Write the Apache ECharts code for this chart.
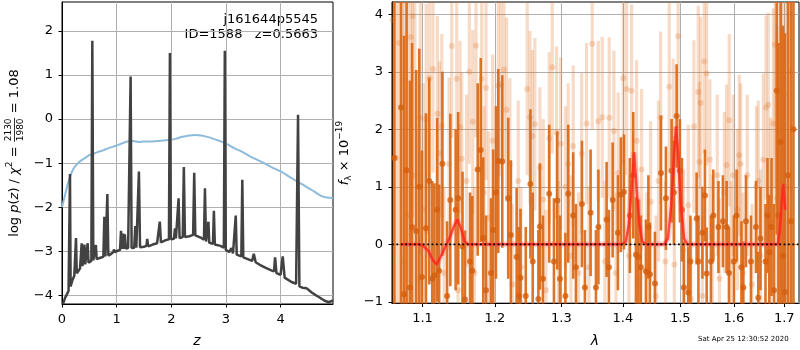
<!DOCTYPE html>
<html>
<head>
<meta charset="utf-8">
<script src="https://cdn.jsdelivr.net/npm/echarts@6/dist/echarts.min.js"></script>
<style>
html, body { margin: 0; padding: 0; background: #fff; }
#chart { width: 800px; height: 350px; }
</style>
</head>
<body>
<div id="chart"></div>
<script>
// ---- redshift probability panel -------------------------------------
// [z, log p(z)] along the redshift grid
const logPz = [
  [0.02,-4.20],[0.04,-4.12],[0.06,-4.05],[0.09,-3.98],[0.12,-3.90],[0.135,-3.86],[0.146,-1.25],[0.158,-3.80],
  [0.19,-3.66],[0.225,-3.56],[0.242,-3.53],[0.256,-2.70],[0.27,-3.50],[0.30,-3.45],[0.33,-3.39],[0.345,-3.37],
  [0.36,-2.82],[0.375,-3.34],[0.395,-3.32],[0.41,-2.85],[0.425,-3.30],[0.455,-3.28],[0.47,-2.82],[0.485,-3.26],
  [0.537,-3.22],[0.555,1.78],[0.573,-3.21],[0.605,-3.19],[0.62,-2.86],[0.635,-3.18],[0.70,-3.15],[0.757,-3.13],
  [0.775,-2.22],[0.795,-3.12],[0.813,-3.11],[0.83,-1.70],[0.848,-3.10],[0.90,-3.06],[0.94,-3.02],[0.95,-2.96],
  [0.965,-3.02],[1.02,-2.99],[1.062,-2.97],[1.08,-2.54],[1.098,-2.95],[1.12,-2.60],[1.135,-2.95],[1.15,-2.62],
  [1.17,-2.94],[1.21,-2.93],[1.238,-2.93],[1.256,0.97],[1.274,-2.93],[1.322,-2.92],[1.341,-2.43],[1.36,-2.92],
  [1.39,-2.91],[1.408,-1.19],[1.428,-2.91],[1.50,-2.90],[1.545,-2.88],[1.56,-2.72],[1.578,-2.89],[1.66,-2.85],
  [1.74,-2.82],[1.772,-2.80],[1.79,-2.33],[1.81,-2.80],[1.90,-2.75],[1.957,-2.73],[1.975,1.50],[1.993,-2.73],
  [2.05,-2.72],[2.067,-2.48],[2.085,-2.71],[2.115,-2.70],[2.134,-1.80],[2.152,-2.70],[2.21,-2.68],[2.23,-1.09],
  [2.25,-2.68],[2.33,-2.66],[2.40,-2.63],[2.42,-1.22],[2.44,-2.64],[2.55,-2.70],[2.598,-2.74],[2.616,-1.57],
  [2.636,-2.78],[2.665,-2.80],[2.68,-2.33],[2.695,-2.81],[2.763,-2.83],[2.78,-2.08],[2.797,-2.85],[2.90,-2.88],
  [2.962,-2.92],[2.98,1.55],[2.998,-2.97],[3.06,-3.02],[3.10,-2.93],[3.13,-3.05],[3.162,-3.06],[3.18,-2.19],
  [3.198,-3.08],[3.282,-3.12],[3.30,-1.38],[3.318,-3.14],[3.40,-3.18],[3.48,-3.22],[3.51,-3.06],[3.545,-3.25],
  [3.62,-3.31],[3.73,-3.38],[3.84,-3.44],[3.88,-3.46],[3.90,-3.14],[3.925,-3.50],[4.00,-3.54],[4.04,-3.12],
  [4.075,-3.60],[4.20,-3.70],[4.285,-3.74],[4.32,0.10],[4.345,-3.80],[4.40,-3.83],[4.475,-3.84],[4.50,-3.88],
  [4.57,-3.94],[4.62,-3.98],[4.70,-4.04],[4.80,-4.12],[4.88,-4.16],[4.96,-4.12]
];

// [z, value] of the smooth reference curve
const priorCurve = [
  [0.00,-2.00],[0.05,-1.75],[0.10,-1.50],[0.15,-1.30],[0.20,-1.15],[0.27,-1.03],[0.33,-0.96],[0.40,-0.90],
  [0.50,-0.82],[0.57,-0.79],[0.65,-0.75],[0.75,-0.71],[0.85,-0.66],[1.00,-0.60],[1.10,-0.55],[1.20,-0.51],
  [1.30,-0.50],[1.40,-0.52],[1.50,-0.51],[1.60,-0.51],[1.80,-0.49],[2.00,-0.47],[2.10,-0.44],[2.20,-0.40],
  [2.30,-0.38],[2.43,-0.36],[2.55,-0.37],[2.68,-0.41],[2.80,-0.46],[2.92,-0.51],[3.04,-0.58],[3.15,-0.66],
  [3.29,-0.74],[3.45,-0.85],[3.65,-0.97],[3.85,-1.10],[4.02,-1.20],[4.15,-1.30],[4.32,-1.43],[4.45,-1.52],
  [4.57,-1.61],[4.66,-1.68],[4.75,-1.75],[4.85,-1.78],[4.96,-1.79]
];

const zTicks = [0, 1, 2, 3, 4];
const logPTicks = [-4, -3, -2, -1, 0, 1, 2];

// ---- spectrum panel ---------------------------------------------------
// [lambda (micron), flux, 1-sigma error]
const darkPoints = [
  [1.0633,1.50,5.0],[1.0719,2.38,5.0],[1.0757,-0.87,4.5],[1.0791,1.29,4.0],
  [1.0834,-0.75,3.6],[1.0862,0.30,3.2],[1.0916,0.23,2.8],[1.0957,1.00,2.4],[1.0992,-0.57,2.2],
  [1.1045,0.28,2.0],[1.1089,1.10,1.8],[1.1129,-0.60,1.7],[1.1159,-0.54,1.6],[1.1195,0.60,1.6],
  [1.1222,-0.46,1.5],[1.1266,1.40,1.6],[1.1330,-0.90,1.3],[1.1374,0.77,1.5],
  [1.1447,0.60,1.4],[1.1482,0.80,1.5],[1.1542,-0.04,1.3],
  [1.1577,-0.96,1.2],[1.1647,-0.30,1.2],[1.1679,-0.46,1.3],
  [1.1755,1.30,1.5],[1.1798,1.64,1.6],[1.1834,0.11,1.4],[1.1873,-0.80,1.3],
  [1.1944,-0.50,1.3],[1.1977,0.25,1.4],[1.2016,0.90,1.5],[1.2050,1.45,1.6],
  [1.2108,1.44,1.5],[1.2195,0.80,1.4],[1.2234,0.16,1.3],
  [1.2319,-0.22,1.2],[1.2352,-0.90,1.2],[1.2377,-0.58,1.2],[1.2455,-0.90,1.2],
  [1.2525,1.05,1.3],[1.2560,-0.30,1.2],[1.2646,-0.95,1.2],
  [1.2669,0.31,1.1],[1.2715,-0.60,1.1],[1.2812,0.88,1.2],
  [1.2885,-0.30,1.1],[1.2937,0.76,1.2],[1.2978,-0.60,1.1],[1.3064,-0.90,1.1],
  [1.3108,0.88,1.2],[1.3187,0.50,1.1],[1.3230,-0.40,1.1],
  [1.3326,0.70,1.1],[1.3374,-0.75,1.0],[1.3466,0.55,1.1],
  [1.3553,-0.75,1.0],[1.3593,0.30,1.0],[1.3728,0.43,1.0],
  [1.3766,-0.40,1.0],[1.3828,0.77,1.0],[1.3916,0.20,1.0],[1.3966,0.86,1.0],
  [1.4017,0.91,1.0],[1.4118,0.50,1.0],[1.4175,1.20,1.1],[1.4221,-0.18,1.0],
  [1.4263,-0.22,1.0],[1.4306,-0.40,0.9],[1.4393,-0.47,0.9],[1.4436,0.30,0.9],
  [1.4462,-0.52,0.9],[1.4550,-0.68,0.9],[1.4656,1.24,1.0],
  [1.4744,0.80,0.9],[1.4845,1.28,0.9],[1.4886,0.90,0.9],
  [1.4935,2.23,0.9],[1.4994,1.28,0.9],[1.5031,0.60,0.9],[1.5067,-0.75,0.8],
  [1.5145,-0.84,0.8],[1.5185,-0.30,0.8],[1.5299,0.45,0.8],[1.5332,-0.30,0.8],
  [1.5406,0.20,0.8],[1.5453,0.85,0.8],[1.5485,-0.51,0.8],
  [1.5565,-0.30,0.8],[1.5609,0.50,0.8],[1.5706,0.30,0.8],
  [1.5791,0.40,0.8],[1.5862,0.30,0.8],[1.5906,-0.50,0.8],[1.6002,-0.30,0.8],
  [1.6054,0.50,0.8],[1.6147,-0.40,0.8],[1.6183,-0.75,0.8],[1.6235,0.40,0.8],
  [1.6333,-0.30,0.8],[1.6432,0.30,0.8],[1.6477,-0.93,0.8],
  [1.6521,0.10,0.9],[1.6621,-0.30,1.0],[1.6661,0.50,1.0],[1.6697,-0.14,1.0],
  [1.6742,0.30,1.2],[1.6792,-0.80,1.5],[1.6846,2.67,2.5],[1.6883,0.50,3.0],[1.6928,1.78,3.5],
  [1.6975,-0.20,4.0],[1.7016,-0.83,4.5],[1.7077,1.20,5.0],[1.7139,0.40,5.0],[1.7190,2.00,5.0]
];

const lightPoints = [
  [1.0609,3.90,5.0],[1.0654,1.50,5.0],[1.0693,3.50,5.0],[1.0738,-0.30,4.5],[1.0769,2.85,4.0],
  [1.0808,0.50,4.0],[1.0847,3.60,3.5],[1.0869,3.97,3.5],[1.0899,1.20,3.0],[1.0937,-0.60,2.6],
  [1.0970,2.20,2.4],[1.1009,0.60,2.2],[1.1049,2.18,2.0],[1.1093,2.89,1.9],[1.1139,3.05,1.8],
  [1.1199,2.27,1.7],[1.1226,1.58,1.6],[1.1258,2.06,1.6],[1.1289,-0.50,1.5],
  [1.1357,1.40,1.5],[1.1393,3.45,1.6],[1.1462,2.88,1.6],
  [1.1480,-0.80,1.5],[1.1508,2.04,1.5],[1.1531,1.49,1.5],[1.1598,1.10,1.5],
  [1.1637,3.00,1.6],[1.1685,2.13,1.6],[1.1710,-0.50,1.5],[1.1731,3.46,1.6],
  [1.1812,2.88,1.6],[1.1845,0.90,1.5],[1.1873,2.72,1.6],[1.1912,0.46,1.5],
  [1.1969,1.80,1.5],[1.2050,2.76,1.6],[1.2088,2.79,1.6],[1.2132,3.04,1.6],
  [1.2171,2.34,1.6],[1.2220,1.39,1.5],[1.2257,-0.70,1.4],[1.2343,1.10,1.4],
  [1.2383,-0.40,1.4],[1.2477,2.70,1.5],[1.2518,2.21,1.5],[1.2555,1.88,1.5],
  [1.2593,2.09,1.5],[1.2669,1.33,1.4],[1.2720,0.78,1.4],[1.2761,-0.80,1.4],
  [1.2812,1.84,1.5],[1.2858,3.08,1.5],[1.2926,1.94,1.5],[1.2954,-0.30,1.4],
  [1.2989,1.75,1.5],[1.3064,1.00,1.4],[1.3108,1.40,1.4],[1.3151,-0.20,1.4],
  [1.3187,1.71,1.4],[1.3270,-0.50,1.4],[1.3321,1.58,1.4],
  [1.3401,2.10,1.4],[1.3439,-0.40,1.4],[1.3492,3.49,1.5],[1.3590,2.14,1.4],
  [1.3656,2.21,1.4],[1.3700,-0.30,1.4],[1.3771,2.20,1.4],
  [1.3849,1.97,1.4],[1.3883,-0.50,1.4],[1.3921,1.24,1.4],
  [1.4005,2.89,1.5],[1.4062,2.70,1.5],[1.4101,-0.20,1.4],[1.4147,2.67,1.5],
  [1.4233,1.80,1.4],[1.4272,-0.60,1.4],[1.4318,1.30,1.4],[1.4410,-0.50,1.4],
  [1.4475,0.74,1.4],[1.4567,-0.90,1.4],[1.4612,1.10,1.4],[1.4650,2.20,1.5],
  [1.4735,-0.30,1.4],[1.4803,2.74,1.5],[1.4874,1.83,1.4],
  [1.4895,-0.35,1.4],[1.4962,3.62,1.6],[1.5057,-0.10,1.4],
  [1.5145,0.68,1.4],[1.5194,-0.95,1.4],[1.5249,2.05,1.5],[1.5329,2.65,1.5],
  [1.5351,1.43,1.4],[1.5373,2.46,1.5],[1.5406,-0.90,1.4],[1.5440,3.18,1.6],[1.5485,2.97,1.6],
  [1.5546,1.47,1.4],[1.5593,-0.20,1.4],[1.5684,1.20,1.4],
  [1.5725,-0.60,1.4],[1.5819,0.90,1.4],[1.5861,1.38,1.4],[1.5911,2.16,1.5],
  [1.5944,-0.30,1.4],[1.5988,1.20,1.4],[1.6070,0.60,1.4],[1.6104,1.55,1.4],
  [1.6131,1.40,1.4],[1.6177,-0.50,1.4],[1.6260,1.20,1.4],
  [1.6353,-0.70,1.4],[1.6441,1.00,1.4],[1.6477,1.10,1.4],[1.6521,-0.20,1.5],
  [1.6577,1.47,1.5],[1.6631,2.38,1.6],[1.6677,2.43,1.6],[1.6721,0.40,1.8],[1.6778,2.10,2.0],
  [1.6812,3.47,2.5],[1.6853,0.80,3.0],[1.6893,1.70,3.5],[1.6944,0.30,4.0],[1.6996,2.60,4.5],
  [1.7057,1.00,5.0],[1.7119,3.00,5.0]
];

// [lambda, flux] of the best-fit line model
const modelSpec = [
  [1.0717,0],[1.095,0],[1.100,-0.02],[1.108,-0.12],[1.114,-0.28],[1.119,-0.35],[1.124,-0.22],
  [1.130,-0.06],[1.136,0.10],[1.142,0.30],[1.147,0.43],[1.152,0.28],[1.157,0.05],[1.162,0],
  [1.398,0],[1.405,0.05],[1.410,0.35],[1.415,1.00],[1.419,1.60],[1.423,1.00],[1.428,0.35],
  [1.433,0.05],[1.440,0],[1.471,0],[1.478,0.10],[1.484,0.70],[1.489,1.60],[1.4924,2.05],
  [1.496,1.60],[1.501,0.70],[1.507,0.10],[1.513,0],[1.687,0],[1.691,0.25],[1.695,0.75],
  [1.698,1.05],[1.700,0.85],[1.702,0.60]
];

const lamTicks = [1.1, 1.2, 1.3, 1.4, 1.5, 1.6, 1.7];
const fluxTicks = [-1, 0, 1, 2, 3, 4];
const LAM_MIN = 1.0603, LAM_MAX = 1.7305;

// ---------------------------------------------------------------------
const FONT = 'DejaVu Sans';
const GRID_COLOR = '#b0b0b0';
const minus = v => (v < 0 ? '\u2212' : '') + Math.abs(v);

// wavelength axis is logarithmic: plot ln(lambda)
const toLog = rows => rows.map(r => [Math.log(r[0])].concat(r.slice(1)));

function errorBars(rows, color, width) {
  return {
    type: 'custom', xAxisIndex: 1, yAxisIndex: 1, clip: true, silent: true,
    data: toLog(rows),
    encode: { x: 0, y: 1 },
    renderItem: function (params, api) {
      const x = api.value(0), y = api.value(1), e = api.value(2);
      const a = api.coord([x, y - e]), b = api.coord([x, y + e]);
      return { type: 'line', shape: { x1: a[0], y1: a[1], x2: b[0], y2: b[1] },
               style: { stroke: color, lineWidth: width } };
    }
  };
}

function axisCommon() {
  return {
    axisLine: { show: true, onZero: false, lineStyle: { color: '#000', width: 1 } },
    axisTick: { show: true, inside: false, length: 3.5, lineStyle: { color: '#000', width: 1 } },
    axisLabel: { fontFamily: FONT, fontSize: 13, color: '#000', margin: 9 },
    splitLine: { show: true, lineStyle: { color: GRID_COLOR, width: 1 } }
  };
}

// build a rotated label from text pieces (with optional fraction)
const mctx = document.createElement('canvas').getContext('2d');
function tw(t, size, italic) {
  mctx.font = (italic ? 'italic ' : '') + size + 'px "' + FONT + '"';
  return mctx.measureText(t).width;
}
function txt(t, x, y, size, italic, align, valign) {
  return { type: 'text', x: x, y: y, silent: true,
    style: { text: t, fontSize: size, fontFamily: FONT, fontStyle: italic ? 'italic' : 'normal',
             fill: '#000', align: align, verticalAlign: valign,
             textAlign: align, textVerticalAlign: valign } };
}
function mathLabel(segs, cx, cy) {
  let x = 0;
  const children = [];
  segs.forEach(s => {
    if (s.frac) {
      const w = Math.max(tw(s.frac[0], s.size), tw(s.frac[1], s.size)) + 2;
      children.push(txt(s.frac[0], x + w / 2, -1.2, s.size, false, 'center', 'bottom'));
      children.push(txt(s.frac[1], x + w / 2, 1.4, s.size, false, 'center', 'top'));
      children.push({ type: 'line', silent: true, shape: { x1: x + 0.5, y1: 0, x2: x + w - 0.5, y2: 0 },
                      style: { stroke: '#000', lineWidth: 0.8 } });
      x += w;
    } else {
      children.push(txt(s.t, x, s.dy || 0, s.size, s.it, 'left', 'middle'));
      x += tw(s.t, s.size, s.it);
    }
  });
  return { type: 'group', x: cx, y: cy + x / 2, rotation: Math.PI / 2, children: children };
}

const leftLabel = mathLabel([
  { t: 'log ', size: 13 }, { t: 'p', size: 13, it: true }, { t: '(', size: 13 },
  { t: 'z', size: 13, it: true }, { t: ') / ', size: 13 }, { t: '\u03c7', size: 13, it: true },
  { t: '2', size: 9, dy: -5 }, { t: ' = ', size: 13 },
  { frac: ['2130', '1980'], size: 9 }, { t: ' = 1.08', size: 13 }
], 14.5, 153);

const rightLabel = mathLabel([
  { t: 'f', size: 13, it: true }, { t: '\u03bb', size: 9, dy: 3.5 },
  { t: ' \u00d7 10', size: 13 }, { t: '\u221219', size: 9, dy: -5 }
], 345, 153);

const chart = echarts.init(document.getElementById('chart'), null, { renderer: 'canvas' });

const x0 = axisCommon(), x1 = axisCommon(), y0 = axisCommon(), y1 = axisCommon();

const option = {
  animation: false,
  backgroundColor: '#fff',
  grid: [
    { left: 62, top: 2, width: 271, height: 302, show: true, borderColor: '#000', borderWidth: 1, backgroundColor: 'transparent' },
    { left: 392, top: 2, width: 407, height: 301.5, show: true, borderColor: '#000', borderWidth: 1, backgroundColor: 'transparent' }
  ],
  xAxis: [
    Object.assign(x0, {
      gridIndex: 0, type: 'value', min: 0, max: 4.96,
      axisTick: Object.assign(x0.axisTick, { customValues: zTicks }),
      axisLabel: Object.assign(x0.axisLabel, { customValues: zTicks })
    }),
    Object.assign(x1, {
      gridIndex: 1, type: 'value', min: Math.log(LAM_MIN), max: Math.log(LAM_MAX),
      axisTick: Object.assign(x1.axisTick, { customValues: lamTicks.map(Math.log) }),
      axisLabel: Object.assign(x1.axisLabel, {
        customValues: lamTicks.map(Math.log),
        formatter: v => Math.exp(v).toFixed(1)
      })
    })
  ],
  yAxis: [
    Object.assign(y0, {
      gridIndex: 0, type: 'value', min: -4.2, max: 2.66,
      axisTick: Object.assign(y0.axisTick, { customValues: logPTicks }),
      axisLabel: Object.assign(y0.axisLabel, { customValues: logPTicks, formatter: minus })
    }),
    Object.assign(y1, {
      gridIndex: 1, type: 'value', min: -1.03, max: 4.215,
      axisTick: Object.assign(y1.axisTick, { customValues: fluxTicks }),
      axisLabel: Object.assign(y1.axisLabel, { customValues: fluxTicks, formatter: minus })
    })
  ],
  series: [
    { type: 'line', xAxisIndex: 0, yAxisIndex: 0, data: priorCurve, showSymbol: false, smooth: 0.3,
      lineStyle: { color: '#8ebbdb', width: 2 }, silent: true, clip: true },
    { type: 'line', xAxisIndex: 0, yAxisIndex: 0, data: logPz, showSymbol: false,
      lineStyle: { color: '#424242', width: 2.5 }, silent: true, clip: true },

    errorBars(lightPoints, 'rgba(224,112,32,0.25)', 3.2),
    { type: 'scatter', xAxisIndex: 1, yAxisIndex: 1, data: toLog(lightPoints).map(r => [r[0], r[1]]),
      symbolSize: 6, itemStyle: { color: 'rgba(224,112,32,0.3)' }, silent: true, clip: true },
    errorBars(darkPoints, 'rgba(218,104,22,0.92)', 2.6),
    { type: 'scatter', xAxisIndex: 1, yAxisIndex: 1, data: toLog(darkPoints).map(r => [r[0], r[1]]),
      symbolSize: 6, itemStyle: { color: '#d55f0c' }, silent: true, clip: true },

    { type: 'line', xAxisIndex: 1, yAxisIndex: 1, data: toLog(modelSpec), showSymbol: false,
      lineStyle: { color: 'rgba(255,90,90,0.25)', width: 6 }, silent: true, clip: true },
    { type: 'line', xAxisIndex: 1, yAxisIndex: 1, data: toLog(modelSpec), showSymbol: false,
      lineStyle: { color: 'rgba(255,30,20,0.75)', width: 2.5 }, silent: true, clip: true },
    { type: 'line', xAxisIndex: 1, yAxisIndex: 1,
      data: [[Math.log(LAM_MIN), 0], [Math.log(LAM_MAX), 0]], showSymbol: false,
      lineStyle: { color: '#000', width: 1.8, type: [1.8, 2.6] }, silent: true, z: 5 }
  ],
  graphic: [
    leftLabel,
    rightLabel,
    txt('j161644p5545', 318, 20, 13, false, 'right', 'middle'),
    txt('ID=1588   z=0.5663', 318, 35, 13, false, 'right', 'middle'),
    txt('z', 197, 341, 14, true, 'center', 'middle'),
    txt('\u03bb', 595, 341, 14, true, 'center', 'middle'),
    txt('Sat Apr 25 12:30:52 2020', 698, 339, 7, false, 'left', 'middle')
  ]
};

chart.setOption(option);
</script>
</body>
</html>
